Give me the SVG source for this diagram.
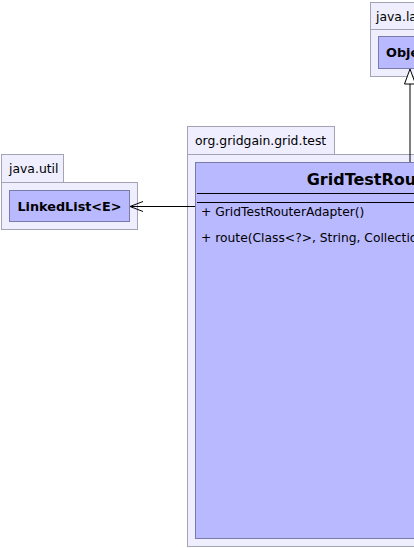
<svg xmlns="http://www.w3.org/2000/svg" width="414" height="548" viewBox="0 0 414 548">
<defs>
<style>
.pkg{fill:#eeeeff;stroke:#a3a3b3;stroke-width:1}
.cls{fill:#b9b9ff;stroke:#7b7bab;stroke-width:1}
.plabel{font-family:"DejaVu Sans",sans-serif;font-size:12.4px;fill:#000}
.cname{font-family:"DejaVu Sans",sans-serif;font-weight:bold;font-size:12.8px;fill:#000}
.big{font-family:"DejaVu Sans",sans-serif;font-weight:bold;font-size:16px;fill:#000}
.mem{font-family:"DejaVu Sans",sans-serif;font-size:12.3px;fill:#000}
.ln{stroke:#000;stroke-width:1;fill:none}
</style>
</defs>
<rect width="414" height="548" fill="#ffffff"/>
<g id="pkg-java-lang">
<rect class="pkg" x="370.5" y="2.5" width="70" height="27"/>
<rect class="pkg" x="370.5" y="29.5" width="70" height="47"/>
<text class="plabel" x="376" y="21">java.lang</text>
</g>
<g id="node-Object">
<rect class="cls" x="378.5" y="36.5" width="60" height="32"/>
<text class="cname" x="386" y="57">Object</text>
</g>
<g id="pkg-java-util">
<rect class="pkg" x="1.5" y="154.5" width="62" height="28"/>
<rect class="pkg" x="1.5" y="182.5" width="136" height="47"/>
<text class="plabel" x="9" y="172.5">java.util</text>
</g>
<g id="node-LinkedList">
<rect class="cls" x="9.5" y="190.5" width="120" height="31"/>
<text class="cname" x="69.5" y="210.5" text-anchor="middle">LinkedList&lt;E&gt;</text>
</g>
<g id="pkg-org-gridgain-grid-test">
<rect class="pkg" x="187.5" y="126.5" width="147" height="28"/>
<rect class="pkg" x="187.5" y="154.5" width="240" height="392"/>
<text class="plabel" x="195" y="145">org.gridgain.grid.test</text>
</g>
<g id="node-GridTestRouterAdapter">
<rect class="cls" x="195.5" y="162.5" width="230" height="376"/>
<text class="big" x="306.7" y="185">GridTestRouterAdapter</text>
<line class="ln" x1="197" y1="193.5" x2="420" y2="193.5"/>
<line class="ln" x1="197" y1="202.5" x2="420" y2="202.5"/>
<text class="mem" x="201" y="216">+ GridTestRouterAdapter()</text>
<text class="mem" x="201" y="241.5">+ route(Class&lt;?&gt;, String, Collection)</text>
</g>
<g id="connectors">
<line class="ln" x1="195" y1="206.5" x2="130" y2="206.5"/>
<polyline class="ln" points="143,201.5 130,206.5 143,211.5"/>
<line class="ln" x1="410" y1="84" x2="410" y2="162"/>
<polygon points="410,69 404.5,84 415.5,84" fill="#ffffff" stroke="#000" stroke-width="1"/>
</g>
</svg>
